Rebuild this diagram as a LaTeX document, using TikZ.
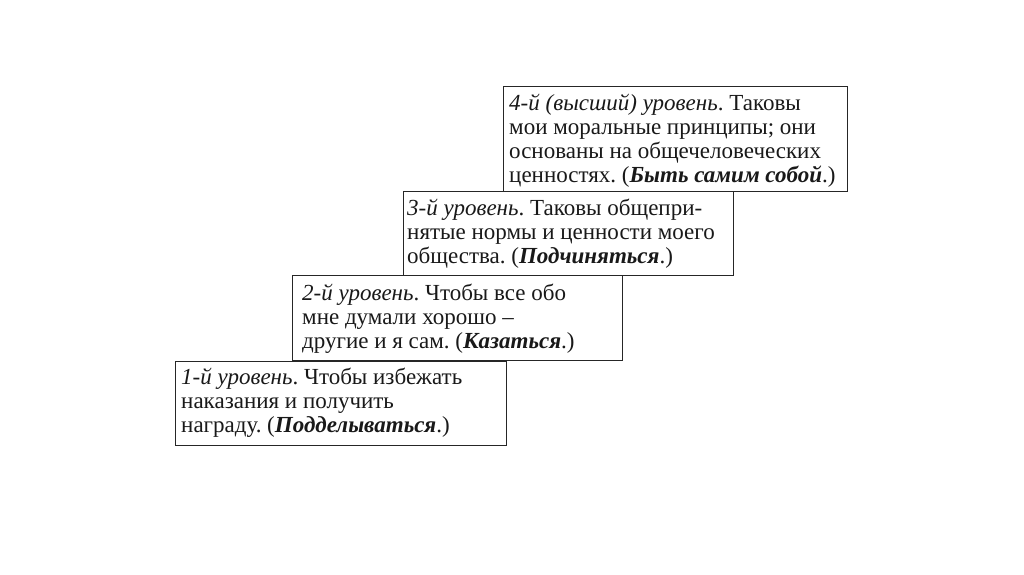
\documentclass[tikz,border=0pt]{standalone}
\usepackage{fontspec}
\setmainfont{Liberation Serif}
\frenchspacing
\tikzset{
  stagebox/.style={draw=black!85, line width=1.4pt, inner sep=0pt, anchor=north west},
  stagetext/.style={anchor=base west, inner sep=0pt, text=black!90}
}
\newcommand{\stagepar}[1]{\parbox[t]{360pt}{\raggedright\fontsize{23}{24}\selectfont #1}}
\begin{document}
\begin{tikzpicture}[x=1pt,y=-1pt]
\useasboundingbox[fill=white] (0,0) rectangle (1024,574);
% boxes
\node[stagebox, minimum width=344pt, minimum height=105pt] (r4) at (503,86) {};
\node[stagebox, minimum width=330pt, minimum height=84pt] (r3) at (403,191) {};
\node[stagebox, minimum width=330pt, minimum height=85pt] (r2) at (292,275) {};
\node[stagebox, minimum width=331pt, minimum height=84pt] (r1) at (175,361) {};
% texts
\node[stagetext] (t4) at (509,110) {\stagepar{\textit{4-й (высший) уровень}. Таковы\\мои моральные принципы; они\\основаны на общечеловеческих\\ценностях. (\textit{\textbf{Быть самим собой}}.)}};
\node[stagetext] (t3) at (407,215) {\stagepar{\textit{3-й уровень}. Таковы общепри-\\нятые нормы и ценности моего\\общества. (\textit{\textbf{Подчиняться}}.)}};
\node[stagetext] (t2) at (302,300) {\stagepar{\textit{2-й уровень}. Чтобы все обо\\мне думали хорошо –\\другие и я сам. (\textit{\textbf{Казаться}}.)}};
\node[stagetext] (t1) at (181,384) {\stagepar{\textit{1-й уровень}. Чтобы избежать\\наказания и получить\\награду. (\textit{\textbf{Подделываться}}.)}};
\end{tikzpicture}
\end{document}
